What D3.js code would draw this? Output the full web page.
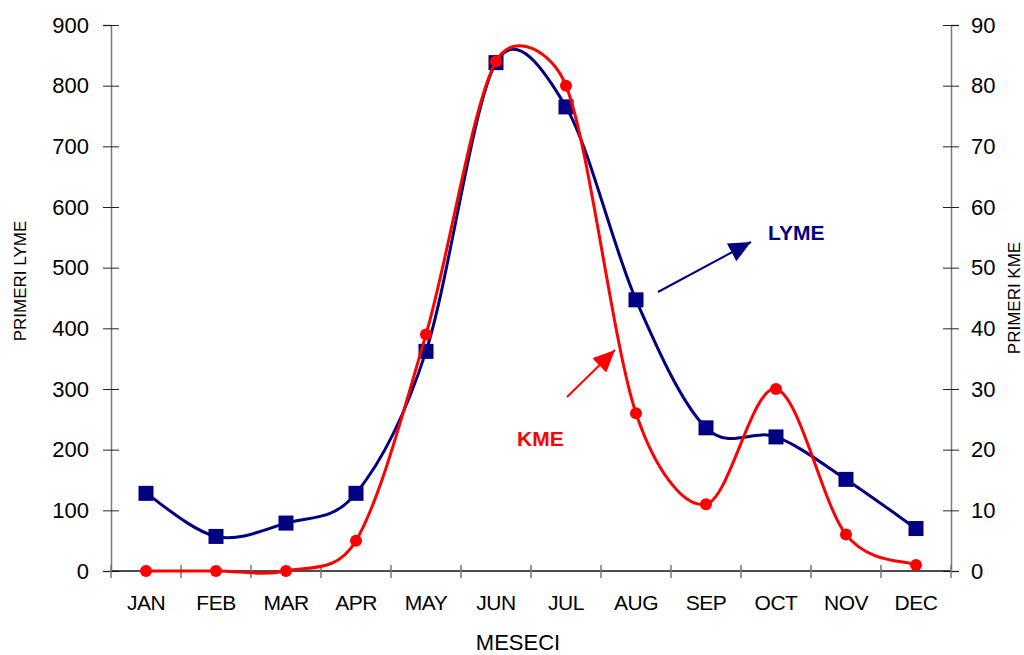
<!DOCTYPE html>
<html>
<head>
<meta charset="utf-8">
<script src="https://cdn.jsdelivr.net/npm/d3@7/dist/d3.min.js"></script>
<style>
  html, body { margin: 0; padding: 0; background: #fff; }
  svg { display: block; font-family: "Liberation Sans", Arial, sans-serif; }
</style>
</head>
<body>
<svg id="chart" width="1024" height="655"></svg>
<script>
// Monthly case counts: Lyme disease (left axis) and KME (right axis)
const months = ["JAN", "FEB", "MAR", "APR", "MAY", "JUN", "JUL", "AUG", "SEP", "OCT", "NOV", "DEC"];
const lymeValues = [128, 57, 79, 128, 362, 838, 765, 447, 236, 221, 151, 70];
const kmeValues = [0, 0, 0, 5, 39, 84, 80, 26, 11, 30, 6, 1];
const leftTicks = [0, 100, 200, 300, 400, 500, 600, 700, 800, 900];
const rightTicks = [0, 10, 20, 30, 40, 50, 60, 70, 80, 90];

const svg = d3.select("#chart");
const plotLeft = 111, plotRight = 951, plotTop = 25, plotBottom = 571;

const x = d3.scaleBand().domain(months).range([plotLeft, plotRight]);
const yL = d3.scaleLinear().domain([0, 900]).range([plotBottom, plotTop]);
const yR = d3.scaleLinear().domain([0, 90]).range([plotBottom, plotTop]);
const cx = m => x(m) + x.bandwidth() / 2;

// Spreadsheet-style smoothing: cubic Bezier segments whose control arms are
// (next - prev) / 6, capped at half the length of the segment they belong to.
function SmoothCurve(context) { this._context = context; }
SmoothCurve.prototype = {
  areaStart() { this._line = 0; },
  areaEnd() { this._line = NaN; },
  lineStart() { this._pts = []; },
  point(px, py) { this._pts.push([+px, +py]); },
  lineEnd() {
    const p = this._pts, n = p.length, c = this._context;
    if (!n) return;
    c.moveTo(p[0][0], p[0][1]);
    for (let i = 0; i < n - 1; i++) {
      const p0 = p[Math.max(i - 1, 0)], p1 = p[i], p2 = p[i + 1], p3 = p[Math.min(i + 2, n - 1)];
      const seg = Math.hypot(p2[0] - p1[0], p2[1] - p1[1]);
      const arm = (a, b) => {
        const d = Math.hypot(b[0] - a[0], b[1] - a[1]);
        let f = 1 / 6;
        if (d * f > seg / 2) f = seg / (2 * d);
        return [(b[0] - a[0]) * f, (b[1] - a[1]) * f];
      };
      const a1 = arm(p0, p2), a2 = arm(p1, p3);
      c.bezierCurveTo(p1[0] + a1[0], p1[1] + a1[1], p2[0] - a2[0], p2[1] - a2[1], p2[0], p2[1]);
    }
  }
};
const smooth = ctx => new SmoothCurve(ctx);

// Left axis
const gL = svg.append("g").attr("transform", `translate(${plotLeft},0)`)
  .call(d3.axisLeft(yL).tickValues(leftTicks).tickSize(8).tickPadding(12));
gL.select(".domain").attr("stroke", "#7a7a7a").attr("stroke-width", 1.5);
gL.selectAll(".tick line").attr("x2", 8).attr("x1", -8).attr("stroke", "#222");
gL.selectAll(".tick text").attr("font-size", 22).attr("fill", "#000")
  .attr("font-family", "Liberation Sans, Arial, sans-serif").attr("x", -22);

// Right axis
const gR = svg.append("g").attr("transform", `translate(${plotRight},0)`)
  .call(d3.axisRight(yR).tickValues(rightTicks).tickSize(8).tickPadding(12));
gR.select(".domain").attr("stroke", "#7a7a7a").attr("stroke-width", 1.5);
gR.selectAll(".tick line").attr("x1", -8).attr("x2", 8).attr("stroke", "#222");
gR.selectAll(".tick text").attr("font-size", 22).attr("fill", "#000")
  .attr("font-family", "Liberation Sans, Arial, sans-serif").attr("x", 20);

// Category axis with ticks between months
const gX = svg.append("g").attr("transform", `translate(0,${plotBottom})`);
gX.append("line").attr("x1", plotLeft).attr("x2", plotRight).attr("stroke", "#111").attr("stroke-width", 1.5);
const bounds = months.map(m => x(m)).concat([plotRight]);
gX.selectAll(".sep").data(bounds).join("line")
  .attr("x1", d => d).attr("x2", d => d).attr("y1", -6).attr("y2", 7)
  .attr("stroke", "#777").attr("stroke-width", 1.5);
gX.selectAll(".mlab").data(months).join("text")
  .attr("x", d => cx(d)).attr("y", 39).attr("text-anchor", "middle")
  .attr("font-size", 21).attr("letter-spacing", -0.5).attr("fill", "#000").text(d => d);

// Axis titles
svg.append("text").attr("x", (plotLeft + plotRight) / 2 - 13).attr("y", 650)
  .attr("text-anchor", "middle").attr("font-size", 22).text("MESECI");
svg.append("text").attr("transform", "translate(26,281) rotate(-90)")
  .attr("text-anchor", "middle").attr("font-size", 17).text("PRIMERI LYME");
svg.append("text").attr("transform", "translate(1020,298) rotate(-90)")
  .attr("text-anchor", "middle").attr("font-size", 17).text("PRIMERI KME");

// Series lines
const lineL = d3.line().x((d, i) => cx(months[i])).y(d => yL(d)).curve(smooth);
const lineR = d3.line().x((d, i) => cx(months[i])).y(d => yR(d)).curve(smooth);

svg.append("path").attr("d", lineL(lymeValues)).attr("fill", "none")
  .attr("stroke", "#000080").attr("stroke-width", 3);
svg.selectAll(".sq").data(lymeValues).join("rect")
  .attr("x", (d, i) => cx(months[i]) - 7.5).attr("y", d => yL(d) - 7.5)
  .attr("width", 15).attr("height", 15).attr("fill", "#000080");

svg.append("path").attr("d", lineR(kmeValues)).attr("fill", "none")
  .attr("stroke", "#ff0000").attr("stroke-width", 3);
svg.selectAll(".dot").data(kmeValues).join("circle")
  .attr("cx", (d, i) => cx(months[i])).attr("cy", d => yR(d))
  .attr("r", 6).attr("fill", "#ff0000");

// Annotations with arrows
const defs = svg.append("defs");
function arrowHead(id, color) {
  defs.append("marker").attr("id", id)
    .attr("viewBox", "0 0 22 20").attr("refX", 22).attr("refY", 10)
    .attr("markerWidth", 22).attr("markerHeight", 20)
    .attr("markerUnits", "userSpaceOnUse").attr("orient", "auto")
    .append("path").attr("d", "M0,0 L22,10 L0,20 Z").attr("fill", color);
}
arrowHead("headLyme", "#000080");
arrowHead("headKme", "#ff0000");

svg.append("line").attr("x1", 658).attr("y1", 292).attr("x2", 751).attr("y2", 242)
  .attr("stroke", "#000080").attr("stroke-width", 2).attr("marker-end", "url(#headLyme)");
svg.append("line").attr("x1", 567).attr("y1", 397).attr("x2", 615).attr("y2", 350)
  .attr("stroke", "#ff0000").attr("stroke-width", 2).attr("marker-end", "url(#headKme)");

svg.append("text").attr("x", 768).attr("y", 240).attr("font-size", 21)
  .attr("font-weight", "bold").attr("fill", "#000080").text("LYME");
svg.append("text").attr("x", 517).attr("y", 446).attr("font-size", 21)
  .attr("font-weight", "bold").attr("fill", "#ff0000").text("KME");
</script>
</body>
</html>
